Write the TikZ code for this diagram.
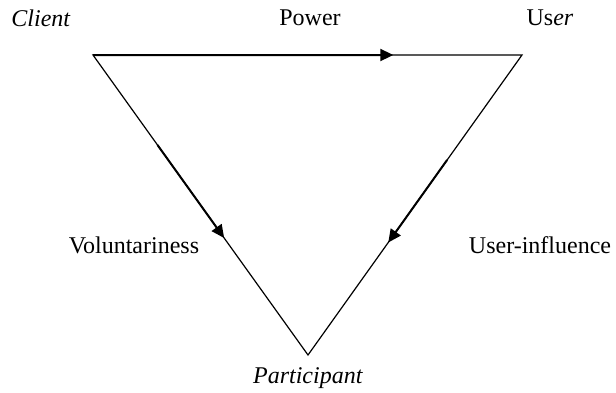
\documentclass[tikz,border=0pt]{standalone}
\usepackage{fontspec}
\setmainfont{Liberation Serif}
\usetikzlibrary{arrows.meta,calc}
\begin{document}
\begin{tikzpicture}[x=0.5pt,y=-0.5pt,
	every node/.style={font=\fontsize{12}{14}\selectfont,inner sep=0pt},
	side/.style={line width=0.6pt},
	flow/.style={line width=1pt,-{Triangle[length=6.5pt,width=6pt]}}]
\useasboundingbox (0,0) rectangle (616,392);
% corners
\coordinate (cl) at (93,55);
\coordinate (us) at (522,55);
\coordinate (pa) at (308,355);
\draw[side] (cl) -- (us) -- (pa) -- cycle;
% arrows on the sides
\coordinate (p1) at ($(cl)!0.70!(us)$);
\coordinate (v0) at ($(cl)!0.30!(pa)$);
\coordinate (v1) at ($(cl)!0.61!(pa)$);
\coordinate (u0) at ($(us)!0.35!(pa)$);
\coordinate (u1) at ($(us)!0.625!(pa)$);
\draw[flow] (cl) -- (p1);
\draw[flow] (v0) -- (v1);
\draw[flow] (u0) -- (u1);
% labels
\node (client) at (41,18) {\textit{Client}};
\node (power) at (310,18) {Power};
\node (user) at (550,18) {Us\textit{er}};
\node (vol) at (134,245) {Voluntariness};
\node (uinf) at (540,245) {User-influence};
\node (part) at (308,378) {\textit{Participant}};
\end{tikzpicture}
\end{document}
